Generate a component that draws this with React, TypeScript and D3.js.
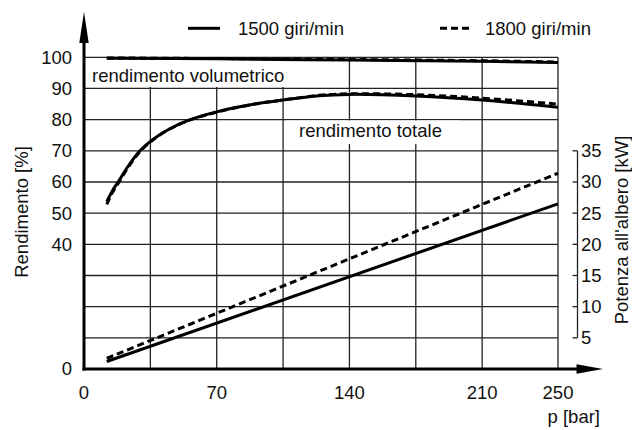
import React from "react";
import * as d3 from "d3";

const pEff = [12, 15, 18, 23, 29.5, 36, 45, 56, 70, 90, 105, 124, 140, 175, 210, 250];
const total1500 = [53.7, 57.2, 60, 64.8, 70, 73.5, 77, 80, 82.5, 85, 86.3, 87.7, 88.1, 87.6, 86.3, 84];
const total1800 = [52.8, 56.6, 59.5, 64.4, 69.7, 73.3, 76.9, 79.9, 82.4, 85, 86.3, 87.8, 88.3, 88, 86.9, 85];
const pVol = [12, 70, 140, 210, 250];
const vol1500 = [99.7, 99.5, 99.1, 98.7, 98.3];
const vol1800 = [99.8, 99.6, 99.3, 98.9, 98.5];
const pPow = [12, 250];
const kw1500 = [1.2, 26.5];
const kw1800 = [1.7, 31.4];
const xTicks = [0, 70, 140, 210, 250];
const xGrid = [35, 70, 105, 140, 175, 210, 250];
const yGrid = [10, 20, 30, 40, 50, 60, 70, 80, 90, 100];
const yTickLabels = [0, 40, 50, 60, 70, 80, 90, 100];
const rTicks = [5, 10, 15, 20, 25, 30, 35];
const legendLabels = ["1500 giri/min", "1800 giri/min"];

const FONT = "'Liberation Sans', Arial, sans-serif";
const FS = 18.5;

export default function App() {
  const x = d3.scaleLinear().domain([0, 250]).range([84, 558]);
  const yL = d3.scaleLinear().domain([0, 100]).range([369, 57.3]);
  const yR = d3.scaleLinear().domain([0, 50]).range([369, 57.3]);

  const mk = (ps: number[], vs: number[], y: d3.ScaleLinear<number, number>) =>
    d3
      .line<number>()
      .x((_, i) => x(ps[i]))
      .y((v) => y(v))
      .curve(d3.curveCatmullRom.alpha(0.5))(vs) || "";

  const solid = { fill: "none", stroke: "#000", strokeWidth: 3 };
  const dashed = { fill: "none", stroke: "#000", strokeWidth: 3, strokeDasharray: "7,4" };

  return (
    <svg
      width={632}
      height={430}
      style={{ position: "absolute", left: 0, top: 0, background: "#fff" }}
      fontFamily={FONT}
      fontSize={FS}
    >
      <rect x={0} y={0} width={632} height={430} fill="#fff" />
      {/* grid */}
      {yGrid.map((v) => (
        <line key={"h" + v} x1={x(0)} x2={x(250)} y1={yL(v)} y2={yL(v)} stroke="#222" strokeWidth={1.3} />
      ))}
      {xGrid.map((v) => (
        <line key={"v" + v} x1={x(v)} x2={x(v)} y1={yL(0)} y2={yL(100)} stroke="#222" strokeWidth={1.3} />
      ))}
      {/* label boxes */}
      <rect x={86} y={60} width={206} height={27} fill="#fff" />
      <rect x={286} y={120.5} width={174} height={23.5} fill="#fff" />
      <text x={92} y={82} fill="#111">rendimento volumetrico</text>
      <text x={299} y={137} fill="#111">rendimento totale</text>

      {/* curves */}
      <path d={mk(pVol, vol1500, yL)} {...solid} />
      <path d={mk(pVol, vol1800, yL)} {...dashed} />
      <path d={mk(pEff, total1500, yL)} {...solid} />
      <path d={mk(pEff, total1800, yL)} {...dashed} />
      <path d={mk(pPow, kw1500, yR)} {...solid} />
      <path d={mk(pPow, kw1800, yR)} {...dashed} />

      {/* axes */}
      <line x1={x(0)} x2={x(0)} y1={370.5} y2={40} stroke="#000" strokeWidth={3} />
      <path d={`M${x(0) - 4.7},43 L${x(0)},11.7 L${x(0) + 4.7},43 Z`} fill="#000" />
      <line x1={x(0) - 1.5} x2={578} y1={369} y2={369} stroke="#000" strokeWidth={3} />
      <path d={`M576.5,364.3 L603,369 L576.5,373.7 Z`} fill="#000" />

      {yTickLabels.map((v) => (
        <text key={"yl" + v} x={72} y={yL(v)} dy="0.35em" textAnchor="end" fill="#111">
          {v}
        </text>
      ))}
      {xTicks.map((v) => (
        <text key={"xl" + v} x={x(v)} y={399} textAnchor="middle" fill="#111">
          {v}
        </text>
      ))}
      <text x={600} y={423} textAnchor="end" fill="#111">p [bar]</text>

      {/* right axis */}
      <line x1={577.5} x2={577.5} y1={yR(35)} y2={yR(5)} stroke="#222" strokeWidth={1.3} />
      {rTicks.map((v) => (
        <g key={"r" + v}>
          <line x1={572.5} x2={577.5} y1={yR(v)} y2={yR(v)} stroke="#222" strokeWidth={1.3} />
          <text x={581} y={yR(v)} dy="0.35em" fill="#111">
            {v}
          </text>
        </g>
      ))}

      <text transform="translate(28,212) rotate(-90)" textAnchor="middle" fill="#111">
        Rendimento [%]
      </text>
      <text transform="translate(628,230) rotate(-90)" textAnchor="middle" fill="#111">
        Potenza all'albero [kW]
      </text>

      {/* legend */}
      <line x1={188} x2={220} y1={28.3} y2={28.3} {...solid} />
      <text x={238} y={35} fill="#111">{legendLabels[0]}</text>
      <line x1={440} x2={470} y1={28.3} y2={28.3} {...dashed} />
      <text x={485} y={35} fill="#111">{legendLabels[1]}</text>
    </svg>
  );
}
